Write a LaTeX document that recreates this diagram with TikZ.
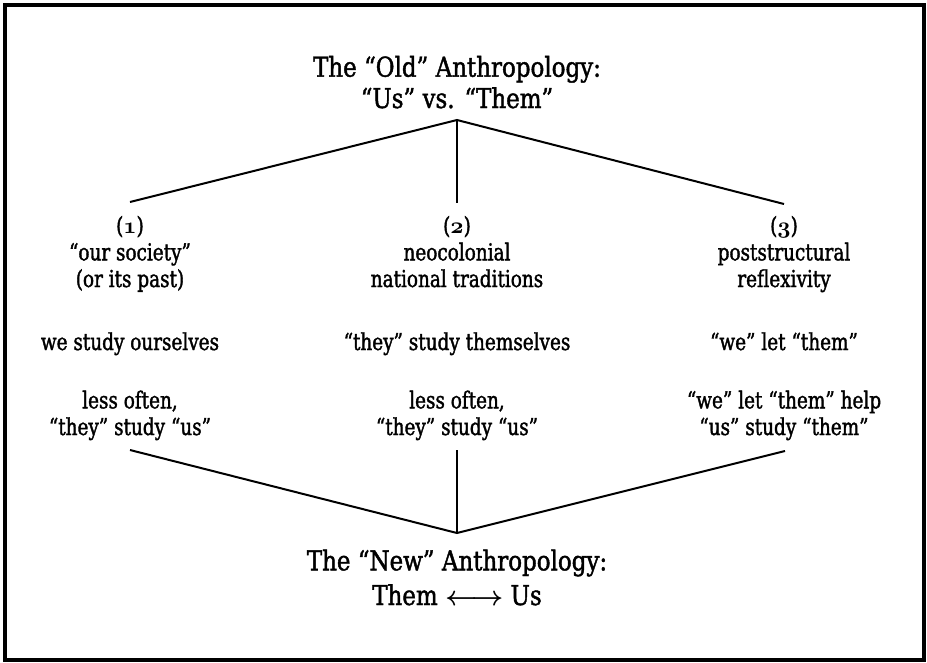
\documentclass[tikz,border=0pt]{standalone}
\usepackage{fontspec}
\setmainfont{DejaVu Serif}[FakeStretch=0.84, FakeBold=1.5]
\newfontfamily\cellfont{DejaVu Serif}[FakeStretch=0.79, FakeBold=1.5]

\newcommand\oldnum[1]{{\fontencoding{OML}\fontfamily{cmm}\fontseries{b}\fontshape{it}\selectfont #1}}

\tikzset{
    heading/.style={align=center, inner sep=0pt, font=\fontsize{20.5}{23.5}\selectfont},
    cell/.style={align=center, inner sep=0pt, font=\cellfont\fontsize{17.5}{20}\selectfont},
    branch/.style={line width=1.5pt},
}

\begin{document}
\begin{tikzpicture}[x=0.75pt, y=-0.75pt]
    \useasboundingbox
        (0,0) rectangle (927,662)
        ;

    \draw [line width=2.3pt]
        (5,5) rectangle (924,660)
        ;

    \node [heading, anchor=base] (old) at (457,108)
        {The “Old” Anthropology:\\“Us” vs. “Them”};

    \node [cell, anchor=base] (society) at (130,287)
        {(\oldnum{1})\\“our society”\\(or its past)};
    \node [cell, anchor=base] (national) at (457,287)
        {(\oldnum{2})\\neocolonial\\national traditions};
    \node [cell, anchor=base] (reflexive) at (784,287)
        {(\oldnum{3})\\poststructural\\reflexivity};

    \node [cell, anchor=base] (ourselves) at (130,350)
        {we study ourselves};
    \node [cell, anchor=base] (themselves) at (457,350)
        {“they” study themselves};
    \node [cell, anchor=base] (letthem) at (784,350)
        {“we” let “them”};

    \node [cell, anchor=base] (oftenone) at (130,435)
        {less often,\\“they” study “us”};
    \node [cell, anchor=base] (oftentwo) at (457,435)
        {less often,\\“they” study “us”};
    \node [cell, anchor=base] (helpus) at (784,435)
        {“we” let “them” help\\“us” study “them”};

    \node [heading, font=\fontsize{20.5}{26}\selectfont, anchor=base] (new) at (457,605)
        {The “New” Anthropology:\\Them {\boldmath$\longleftrightarrow$} Us};

    \coordinate (oldfoot) at (457,120);
    \coordinate (societytop) at (130,202);
    \coordinate (nationaltop) at (457,203);
    \coordinate (reflexivetop) at (784,204);

    \coordinate (newhead) at (457,533);
    \coordinate (oftenonefoot) at (130,450);
    \coordinate (oftentwofoot) at (457,450);
    \coordinate (helpusfoot) at (785,451);

    \draw [branch]
        (societytop) -- (oldfoot) -- (reflexivetop)
        ;
    \draw [branch]
        (oldfoot) -- (nationaltop)
        ;

    \draw [branch]
        (oftenonefoot) -- (newhead) -- (helpusfoot)
        ;
    \draw [branch]
        (oftentwofoot) -- (newhead)
        ;
\end{tikzpicture}
\end{document}
